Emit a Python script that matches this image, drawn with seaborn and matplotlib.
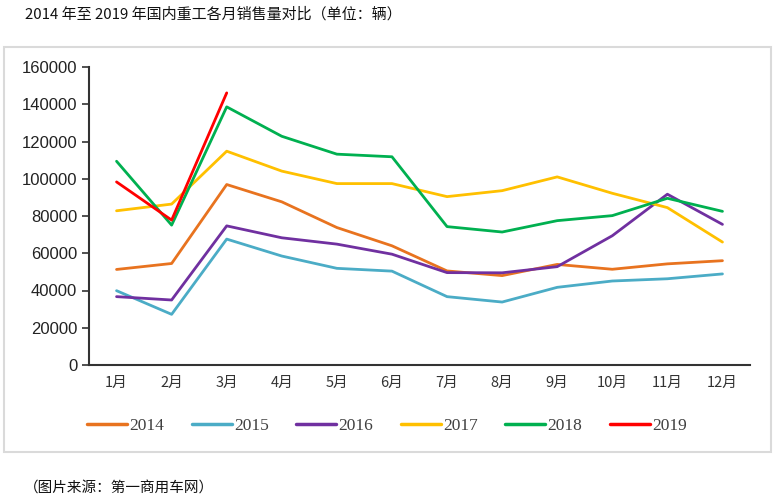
import pandas as pd
import matplotlib.pyplot as plt
import seaborn as sns
from matplotlib.patches import Rectangle

# 数据（单位：辆）
months = ['1月', '2月', '3月', '4月', '5月', '6月', '7月', '8月', '9月', '10月', '11月', '12月']
sales_2014 = [51300, 54500, 96900, 87600, 73800, 64000, 50500, 48000, 54000, 51400, 54300, 56000]
sales_2015 = [39900, 27200, 67600, 58500, 51900, 50400, 36700, 33800, 41700, 45100, 46300, 48900]
sales_2016 = [36700, 34900, 74700, 68300, 64900, 59500, 49600, 49500, 52800, 69400, 91700, 75500]
sales_2017 = [82800, 86400, 114800, 104100, 97400, 97400, 90400, 93600, 101000, 92200, 84500, 66000]
sales_2018 = [109400, 75100, 138600, 122800, 113200, 111800, 74300, 71400, 77500, 80200, 89500, 82500]
sales_2019 = [98300, 77800, 146100]

years = ['2014', '2015', '2016', '2017', '2018', '2019']
series = [sales_2014, sales_2015, sales_2016, sales_2017, sales_2018, sales_2019]
colors = ['#E8731F', '#4BACC6', '#7030A0', '#FFC000', '#00B050', '#FF0000']

rows = []
for y, vals in zip(years, series):
    for i, v in enumerate(vals):
        rows.append({'year': y, 'month': i, 'sales': v})
df = pd.DataFrame(rows)

sns.set_theme(style="white")
plt.rcParams['font.family'] = ['Noto Sans CJK SC', 'DejaVu Sans']

fig = plt.figure(figsize=(7.76, 5), dpi=100)
ax = fig.add_axes([89 / 776, 1 - 365 / 500, (750 - 89) / 776, (365 - 67) / 500])

sns.lineplot(data=df, x='month', y='sales', hue='year', palette=colors,
             linewidth=2, ax=ax, legend=False)

ax.set_xlim(-0.5, 11.5)
ax.set_ylim(0, 160000)
ax.set_yticks(range(0, 160001, 20000))
ax.set_yticklabels([str(v) for v in range(0, 160001, 20000)], fontsize=12,
                   family=['Liberation Sans'], color='#222222')
ax.set_xticks(range(12))
ax.set_xticklabels(months, fontsize=10.5, color='#333333')
ax.set_xticks([i - 0.5 for i in range(13)], minor=True)
ax.tick_params(axis='x', which='major', length=0, pad=8)
ax.tick_params(axis='x', which='minor', length=5, width=1.2, color='#333333', direction='out')
ax.tick_params(axis='y', length=5, width=1.2, color='#333333', direction='out', left=True)
ax.set_xlabel('')
ax.set_ylabel('')
for s in ['top', 'right']:
    ax.spines[s].set_visible(False)
for s in ['left', 'bottom']:
    ax.spines[s].set_color('#333333')
    ax.spines[s].set_linewidth(1.5)

# 图例
handles = [plt.Line2D([], [], color=c, lw=2.5) for c in colors]
fig.legend(handles, years, loc='center', bbox_to_anchor=(387 / 776, 1 - 426 / 500),
           ncol=6, frameon=False, handlelength=2.3, handletextpad=0.12, columnspacing=1.6,
           borderpad=0, prop={'family': 'Liberation Serif', 'size': 12.5},
           labelcolor='#404040')

# 外框
fig.patches.append(Rectangle((4 / 776, 1 - 452 / 500), 767 / 776, 405 / 500,
                             transform=fig.transFigure, fill=False,
                             edgecolor='#DADADA', linewidth=1.5))

fig.text(25 / 776, 1 - 14 / 500, '2014 年至 2019 年国内重工各月销售量对比（单位：辆）',
         fontsize=10.8, va='center', ha='left', color='#111111')
fig.text(24 / 776, 1 - 488 / 500, '（图片来源：第一商用车网）',
         fontsize=10.5, va='center', ha='left', color='#111111')

fig.savefig('out.png', dpi=100)
